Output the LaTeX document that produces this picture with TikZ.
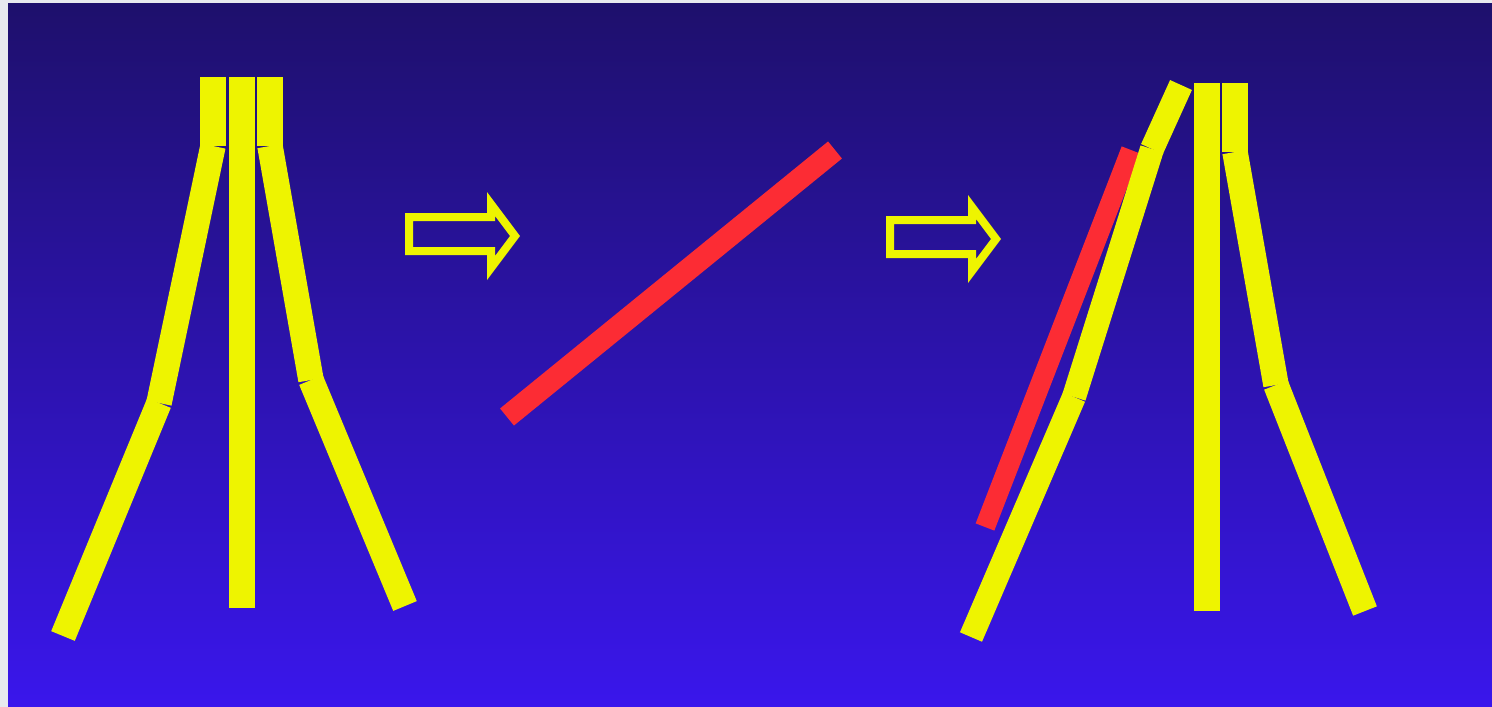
\documentclass[tikz,border=0pt]{standalone}
\usetikzlibrary{calc}
\definecolor{screentop}{RGB}{30,16,108}
\definecolor{screenmid}{RGB}{42,12,202}
\definecolor{screenbot}{RGB}{58,22,236}
\definecolor{paper}{RGB}{232,234,238}
\definecolor{legyellow}{RGB}{238,244,0}
\definecolor{rodred}{RGB}{252,44,52}

\begin{document}
\begin{tikzpicture}[x=0.02cm,y=-0.02cm,leg/.style={draw=legyellow,line width=0.51cm,line cap=butt},rod/.style={draw=rodred,line width=0.44cm,line cap=butt},hollow/.style={draw=legyellow,line width=0.16cm,line join=miter}]
% screen
\fill[paper] (0,0) rectangle (1492,707);
\shade[top color=screentop,middle color=screenmid,bottom color=screenbot] (8,3) rectangle (1492,707);
\useasboundingbox (0,0) rectangle (1492,707);
% first tripod
\coordinate (lt1) at (213,77);
\coordinate (lk1) at (213,146);
\coordinate (lk2) at (159,403);
\coordinate (lf1) at (63,636);
\coordinate (mt1) at (242,77);
\coordinate (mf1) at (242,608);
\coordinate (rt1) at (270,77);
\coordinate (rk1) at (270,146);
\coordinate (rk2) at (311,380);
\coordinate (rf1) at (405,606);
\draw[leg] (lt1) -- (lk1);
\draw[leg] (lk1) -- (lk2);
\draw[leg] (lk2) -- (lf1);
\draw[leg] (mt1) -- (mf1);
\draw[leg] (rt1) -- (rk1);
\draw[leg] (rk1) -- (rk2);
\draw[leg] (rk2) -- (rf1);
% arrows
\foreach \dx/\dy in {0/0,481/3}
  \draw[hollow,shift={(\dx,\dy)}] (409,217) -- (491,217) -- (491,204) -- (515,236) -- (491,268) -- (491,251) -- (409,251) -- cycle;
% loose rod
\coordinate (ra) at (507,417);
\coordinate (rb) at (835,150);
\draw[rod] (ra) -- (rb);
% second tripod
\coordinate (sa) at (1131,150);
\coordinate (sb) at (985,527);
\draw[rod,line width=0.4cm] (sa) -- (sb);
\coordinate (lt2) at (1181,85);
\coordinate (lk3) at (1152,149);
\coordinate (lk4) at (1074,397);
\coordinate (lf2) at (971,637);
\coordinate (mt2) at (1207,83);
\coordinate (mf2) at (1207,611);
\coordinate (rt2) at (1235,83);
\coordinate (rk3) at (1235,152);
\coordinate (rk4) at (1276,385);
\coordinate (rf2) at (1365,611);
\draw[leg,line width=0.48cm] (lt2) -- (lk3);
\draw[leg,line width=0.48cm] (lk3) -- (lk4);
\draw[leg,line width=0.48cm] (lk4) -- (lf2);
\draw[leg] (mt2) -- (mf2);
\draw[leg] (rt2) -- (rk3);
\draw[leg] (rk3) -- (rk4);
\draw[leg] (rk4) -- (rf2);
\end{tikzpicture}
\end{document}
